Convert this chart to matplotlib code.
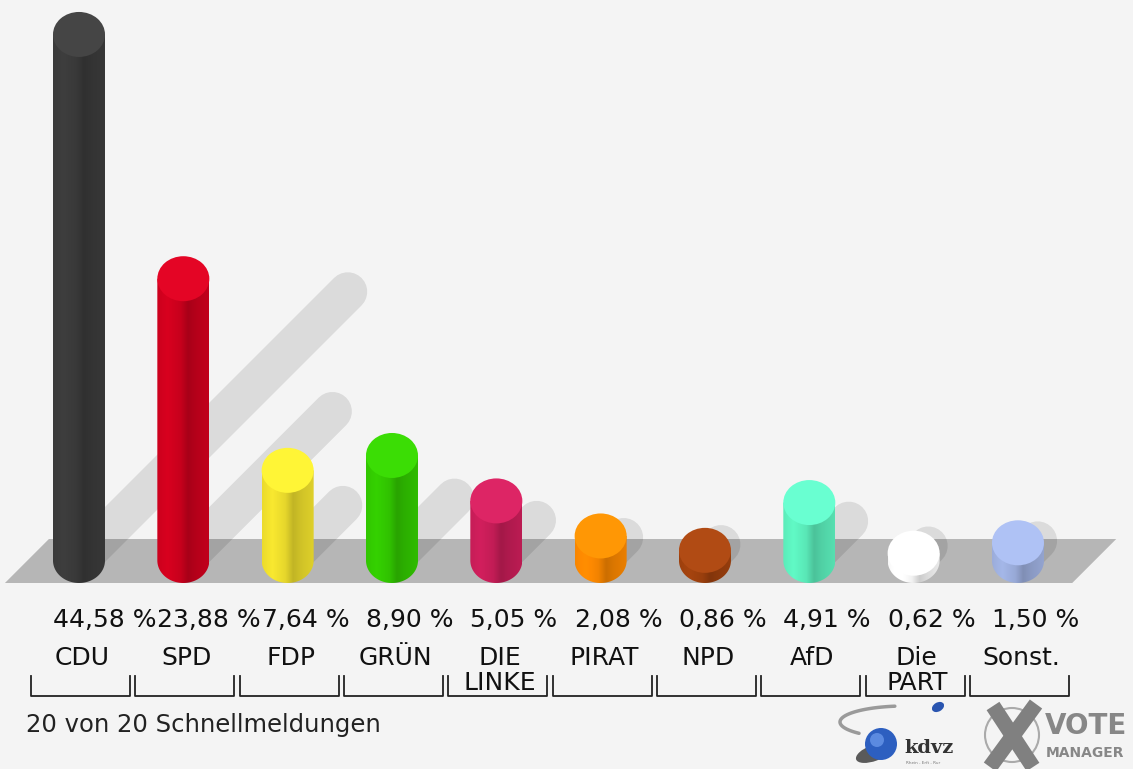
import numpy as np
import matplotlib
matplotlib.use("Agg")
import matplotlib.pyplot as plt
from matplotlib.patches import Ellipse, Polygon, PathPatch, Circle
from matplotlib.path import Path
from matplotlib.colors import to_rgb

# Daten
parteien = ["CDU", "SPD", "FDP", "GRÜN", "DIE\nLINKE", "PIRAT", "NPD", "AfD", "Die\nPART", "Sonst."]
anteile = [44.58, 23.88, 7.64, 8.90, 5.05, 2.08, 0.86, 4.91, 0.62, 1.50]
farben = ["#3c3c3c", "#d2001e", "#f2e22e", "#33cc00", "#cc1e5a",
          "#ff8a00", "#a2420e", "#5ef3c0", "#ffffff", "#a0b2e2"]
fusszeile = "20 von 20 Schnellmeldungen"

W, H = 1133, 769
BG = "#f4f4f4"
fig = plt.figure(figsize=(W / 100, H / 100), dpi=100)
fig.patch.set_facecolor(BG)
ax = fig.add_axes([0, 0, 1, 1])
ax.set_facecolor(BG)

# Massstab: eine Partei = 104.33 px, ein Prozent = 11.8 px
sx, sy = 104.33, 11.8
x0_px, y0_px = 79, 560.5
xlim = (-x0_px / sx, (W - x0_px) / sx)
ylim = (-(H - y0_px) / sy, y0_px / sy)

bw = 52 / sx      # Saeulenbreite
eh = 45 / sy      # Hoehe der Deckel-Ellipse
n = len(anteile)
xs = np.arange(n)

# Boden (graues Parallelogramm)
f_unten, f_oben = -eh / 2, 21.5 / sy
schraeg = (f_oben - f_unten) * sy / sx
boden = Polygon([(-0.71, f_unten), (n - 1 + 0.52, f_unten),
                 (n - 1 + 0.52 + schraeg, f_oben), (-0.71 + schraeg, f_oben)],
                closed=True, facecolor="#b6b6b6", edgecolor="none", zorder=1)
ax.add_patch(boden)

# Schatten, 45 Grad nach rechts oben
k = 0.49
for x, v in zip(xs, anteile):
    h = v + eh / 2
    dy = k * h
    dx = k * h * sy / sx
    ax.plot([x, x + dx], [0, dy], color="black", alpha=0.1, lw=28,
            solid_capstyle="round", zorder=2)

# Zylinder
t = np.linspace(0, 1, 120)
licht = np.interp(t, [0, 0.2, 0.45, 0.6, 0.75, 1.0], [0.97, 1.03, 0.95, 0.80, 0.86, 0.92])
theta = np.linspace(np.pi, 2 * np.pi, 60)
for x, v, c in zip(xs, anteile, farben):
    rgb = np.array(to_rgb(c))
    links, rechts = x - bw / 2, x + bw / 2
    verts = [(links, v), (links, 0)]
    verts += [(x + bw / 2 * np.cos(a), eh / 2 * np.sin(a)) for a in theta]
    verts += [(rechts, v), (links, v)]
    pfad = Path(verts, [Path.MOVETO] + [Path.LINETO] * (len(verts) - 2) + [Path.CLOSEPOLY])
    form = PathPatch(pfad, facecolor="none", edgecolor="none", transform=ax.transData)
    ax.add_patch(form)
    verlauf = np.clip(licht[None, :, None] * rgb[None, None, :], 0, 1)
    im = ax.imshow(verlauf, extent=(links, rechts, -eh / 2, v), aspect="auto",
                   interpolation="bilinear", zorder=3)
    im.set_clip_path(form)
    deckel = np.clip(rgb * 1.06 + 0.02, 0, 1)
    ax.add_patch(Ellipse((x, v), bw, eh, facecolor=deckel, edgecolor="none", zorder=4))

# Beschriftung
fs = 18
for x, v, name in zip(xs, anteile, parteien):
    ax.text(x - bw / 2, (y0_px - 627) / sy, f"{v:.2f} %".replace(".", ","),
            ha="left", va="baseline", fontsize=fs, color="#111111", zorder=5)
    zeilen = name.split("\n")
    ax.text(x + 0.03, (y0_px - 665) / sy, zeilen[0], ha="center", va="baseline",
            fontsize=fs, color="#111111", zorder=5)
    if len(zeilen) > 1:
        ax.text(x + 0.03, (y0_px - 690) / sy, zeilen[1], ha="center", va="baseline",
                fontsize=fs, color="#111111", zorder=5)
    # Klammer unter dem Namen
    kl, kr = x - 0.46, x + 0.49
    ko, ku = (y0_px - 676) / sy, (y0_px - 696) / sy
    ax.plot([kl, kl, kr, kr], [ko, ku, ku, ko], color="#222222", lw=1.3, zorder=5)

ax.text(-0.51, (y0_px - 732) / sy, fusszeile, ha="left", va="baseline",
        fontsize=17.5, color="#222222")

ax.set_xlim(*xlim)
ax.set_ylim(*ylim)
ax.axis("off")

# Logos unten rechts (Dekoration, in Pixelkoordinaten)
lg = fig.add_axes([0, 0, 1, 1], zorder=10)
lg.set_xlim(0, W)
lg.set_ylim(H, 0)
lg.axis("off")
lg.patch.set_alpha(0)
a = np.linspace(0.55 * np.pi, 1.25 * np.pi, 50)
lg.plot(905 + 65 * np.cos(a), 722 - 16 * np.sin(a), color="#9a9a9a", lw=2.5,
        solid_capstyle="round")
lg.add_patch(Ellipse((938, 707), 13, 9, angle=-30, facecolor="#2a55b0", edgecolor="none"))
lg.add_patch(Ellipse((874, 753), 38, 16, angle=-20, facecolor="#333333", edgecolor="none", alpha=0.8))
lg.add_patch(Circle((881, 744), 16, facecolor="#2d5fc0", edgecolor="none"))
lg.add_patch(Circle((877, 740), 7, facecolor="#5b8ae0", edgecolor="none"))
lg.text(904, 753, "kdvz", fontsize=14, fontweight="bold", family="DejaVu Serif",
        color="#333333", ha="left", va="baseline")
lg.text(906, 764, "Rhein - Erft - Rur", fontsize=3, color="#777777", ha="left", va="baseline")
lg.add_patch(Circle((1012, 735), 27, facecolor="none", edgecolor="#aaaaaa", lw=1.5))
lg.plot([993, 1033], [706, 767], color="#808080", lw=11, solid_capstyle="butt")
lg.plot([1036, 990], [704, 767], color="#808080", lw=11, solid_capstyle="butt")
lg.text(1045, 734, "VOTE", fontsize=20, fontweight="bold", color="#878787",
        ha="left", va="baseline")
lg.text(1046, 757, "MANAGER", fontsize=10, fontweight="bold", color="#878787",
        ha="left", va="baseline")

fig.savefig("out.png", dpi=100, facecolor=BG)
